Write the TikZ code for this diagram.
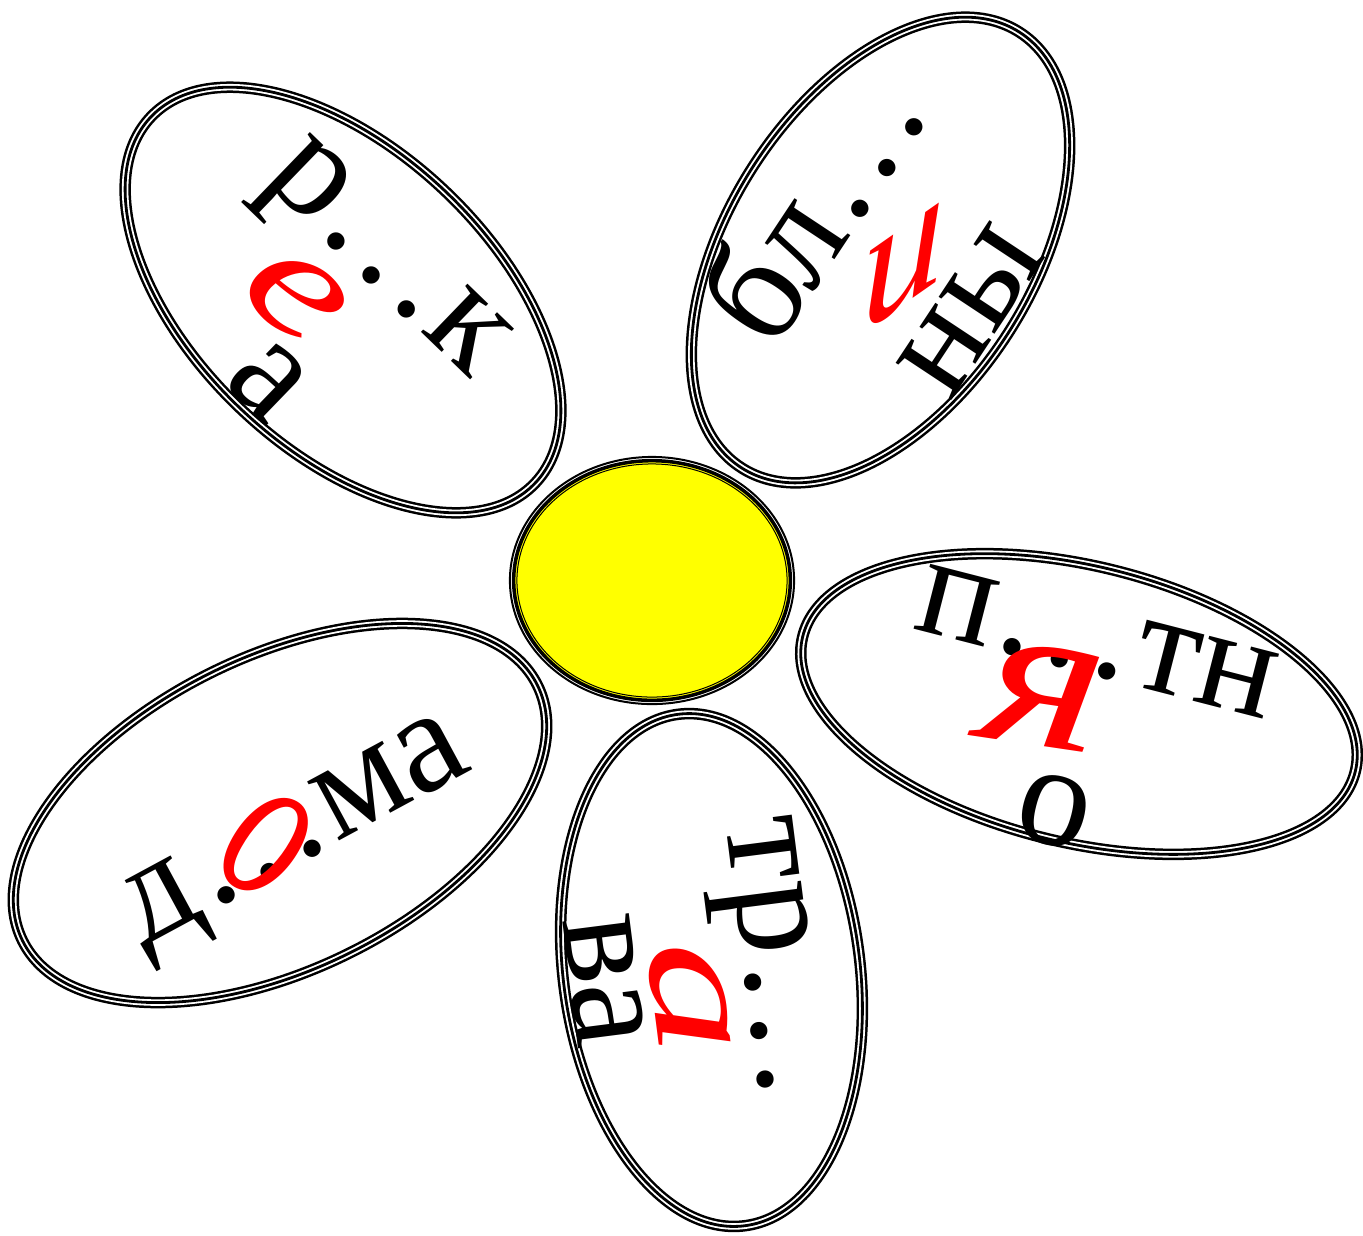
\documentclass[tikz,border=0pt]{standalone}
\usepackage{fontspec}
\setmainfont{Liberation Serif}
\usetikzlibrary{shapes.geometric}
\definecolor{sunfill}{RGB}{255,255,0}
\definecolor{vowelred}{RGB}{255,0,0}
\newcommand{\wordsize}{\fontsize{41.5pt}{49.8pt}\selectfont}
\tikzset{
  % лепесток: тройной контур
  petal/.style={ellipse,inner sep=0pt,draw=black,line width=0.28mm,
    preaction={draw=black,line width=1.15mm},
    preaction={draw=white,line width=0.65mm}},
  word/.style={font=\wordsize,inner sep=0pt,anchor=base},
  vowel/.style={font=\wordsize\itshape,text=vowelred,inner sep=0pt},
}
\begin{document}
\begin{tikzpicture}[x=0.01cm,y=-0.01cm]
  \useasboundingbox (0,0) rectangle (1363,1235);
  \node[petal,minimum width=53.05mm,minimum height=29.85mm,rotate=-43.7] (reka)   at (343,300)   {};
  \node[petal,minimum width=51.65mm,minimum height=30.45mm,rotate=57.5]  (bliny)  at (880.5,250) {};
  \node[petal,minimum width=56.85mm,minimum height=27.65mm,rotate=-13.7] (pyatno) at (1079,704)  {};
  \node[petal,minimum width=57.45mm,minimum height=31.25mm,rotate=26.4]  (doma)   at (280,813)   {};
  \node[petal,minimum width=51.55mm,minimum height=29.65mm,rotate=-82.5] (trava)  at (711.5,970) {};
  \node[ellipse,inner sep=0pt,fill=sunfill,draw=black,line width=0.35mm,
    minimum width=27.65mm,minimum height=23.95mm] (sun) at (652,580.5) {};
  \draw[line width=0.2mm] (sun.center) ellipse [x radius=14.2mm,y radius=12.35mm];
  \draw[line width=0.1mm] (sun.center) ellipse [x radius=13.5mm,y radius=11.65mm];
  \begin{scope}[shift={(366,279)},rotate=-44,transform shape]
    \node[word] (reka-1) at (0,0) {р…к};
    \node[word] (reka-2) at (0,175) {а};
    \node[vowel,xscale=1.45,yscale=1.1] (reka-e) at (-40,61) {е};
  \end{scope}
  \begin{scope}[shift={(853,232)},rotate=56.5,transform shape]
    \node[word] (bliny-1) at (0,0) {бл…};
    \node[word] (bliny-2) at (0,175) {ны};
    \node[vowel,rotate=-56.5,yslant=0.7,scale=1.15] (bliny-i) at (-2,62) {и};
  \end{scope}
  \begin{scope}[shift={(1089,674)},rotate=-14.4,transform shape]
    \node[word] (pyatno-1) at (0,0) {п…тн};
    \node[word] (pyatno-2) at (0,175) {о};
    \node[vowel,rotate=6,scale=1.45,xscale=1.25] (pyatno-ya) at (-38,33) {я};
  \end{scope}
  \begin{scope}[shift={(308.5,858)},rotate=28.4,transform shape]
    \node[word] (doma-1) at (0,0) {д…ма};
    \node[vowel,rotate=-58,yscale=1.5] (doma-o) at (-31,-32) {о};
  \end{scope}
  \begin{scope}[shift={(744,963)},rotate=-82.7,transform shape]
    \node[word] (trava-1) at (0,0) {тр…};
    \node[word] (trava-2) at (0,175) {ва};
    \node[vowel,xscale=1.5,scale=1.05] (trava-a) at (28,59) {а};
  \end{scope}
\end{tikzpicture}
\end{document}
